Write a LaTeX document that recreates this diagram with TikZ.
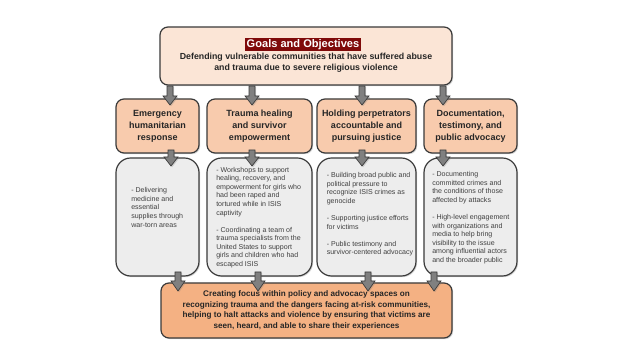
\documentclass[tikz,border=0pt]{standalone}
\usepackage{fontspec}
\setmainfont{Liberation Sans}
\usetikzlibrary{shadows}
\definecolor{topfill}{HTML}{FBE5D6}
\definecolor{orfill}{HTML}{F8CBAD}
\definecolor{grfill}{HTML}{EDEDED}
\definecolor{botfill}{HTML}{F4B183}
\definecolor{titlered}{HTML}{7F0A0A}
\definecolor{edge}{HTML}{3A3A3A}
\definecolor{txt}{HTML}{262626}
\definecolor{graytxt}{HTML}{404040}
\definecolor{arrfill}{HTML}{808080}
\newcommand{\blockarr}[4]{%
  \draw[arrstyle] (#1-3,#2) -- (#1+3,#2) -- (#1+3,#3) -- (#1+7,#3) -- (#1,#4) -- (#1-7,#3) -- (#1-3,#3) -- cycle;}
\begin{document}
\begin{tikzpicture}[x=0.75pt,y=-0.75pt,
  sh/.style={drop shadow={opacity=0.3,shadow xshift=0.9pt,shadow yshift=-0.9pt}},
  basebox/.style={draw=edge,line width=0.9pt,sh,inner sep=0pt,rectangle},
  topbox/.style={basebox,fill=topfill,rounded corners=6pt},
  headbox/.style={basebox,fill=orfill,rounded corners=6pt,minimum height=40.5pt,
     align=center,text=txt,font=\bfseries\fontsize{6.75pt}{9pt}\selectfont},
  detailbox/.style={basebox,fill=grfill,rounded corners=11pt,minimum height=88.5pt},
  detailtxt/.style={anchor=north west,inner sep=0pt,align=left,text=graytxt,
     font=\fontsize{5.3pt}{6.4pt}\selectfont},
  botbox/.style={basebox,fill=botfill,rounded corners=6pt,align=center,text=txt,
     font=\bfseries\fontsize{6.1pt}{7.9pt}\selectfont},
  arrstyle/.style={fill=arrfill,draw=edge,line width=0.5pt,sh}]
\useasboundingbox (0,0) rectangle (624,352);
\fill[white] (0,0) rectangle (624,352);

% top box
\node[topbox,minimum width=219pt,minimum height=43.5pt] (goal) at (306,56) {};
\node[fill=titlered,text=white,font=\bfseries\fontsize{8.3pt}{9pt}\selectfont,
  inner xsep=1.2pt,inner ysep=0pt,minimum height=9.75pt] (title) at (303,44.5) {Goals and Objectives};
\node[align=center,inner sep=0pt,text=txt,font=\bfseries\fontsize{6.6pt}{7.6pt}\selectfont]
  (goaltxt) at (306,62.7) {Defending vulnerable communities that have suffered abuse\\and trauma due to severe religious violence};

% heading boxes
\node[headbox,minimum width=62.25pt] (h1) at (157.5,126) {Emergency\\humanitarian\\response};
\node[headbox,minimum width=78.75pt] (h2) at (259.5,126) {Trauma healing\\and survivor\\empowerment};
\node[headbox,minimum width=74.25pt] (h3) at (366.5,126) {Holding perpetrators\\accountable and\\pursuing justice};
\node[headbox,minimum width=69.75pt] (h4) at (470.5,126) {Documentation,\\testimony, and\\public advocacy};

% detail boxes
\node[detailbox,minimum width=62.25pt] (d1) at (157.5,217) {};
\node[detailbox,minimum width=78.75pt] (d2) at (259.5,217) {};
\node[detailbox,minimum width=74.25pt] (d3) at (366.5,217) {};
\node[detailbox,minimum width=69.75pt] (d4) at (470.5,217) {};

\node[detailtxt] (t1) at (131,187.5) {- Delivering\\medicine and\\essential\\supplies through\\war-torn areas};
\node[detailtxt] (t2) at (216,167) {- Workshops to support\\healing, recovery, and\\empowerment for girls who\\had been raped and\\tortured while in ISIS\\captivity\\[6.4pt]- Coordinating a team of\\trauma specialists from the\\United States to support\\girls and children who had\\escaped ISIS};
\node[detailtxt] (t3) at (326.5,172.5) {- Building broad public and\\political pressure to\\recognize ISIS crimes as\\genocide\\[6.4pt]- Supporting justice efforts\\for victims\\[6.4pt]- Public testimony and\\survivor-centered advocacy};
\node[detailtxt] (t4) at (432,171.5) {- Documenting\\committed crimes and\\the conditions of those\\affected by attacks\\[6.4pt]- High-level engagement\\with organizations and\\media to help bring\\visibility to the issue\\among influential actors\\and the broader public};

% bottom box
\node[botbox,minimum width=218.25pt,minimum height=41.25pt] (res) at (306.5,310.5)
  {Creating focus within policy and advocacy spaces on\\recognizing trauma and the dangers facing at-risk communities,\\helping to halt attacks and violence by ensuring that victims are\\seen, heard, and able to share their experiences};

% block arrows
\blockarr{170}{86}{96}{105}
\blockarr{252}{86}{96}{105}
\blockarr{362}{86}{96}{105}
\blockarr{443}{86}{96}{105}
\blockarr{171}{150}{157}{166}
\blockarr{252}{150}{157}{166}
\blockarr{362}{150}{157}{166}
\blockarr{443}{150}{157}{166}
\blockarr{178}{272}{281}{291}
\blockarr{258}{272}{281}{291}
\blockarr{368}{272}{281}{291}
\blockarr{434}{272}{281}{291}
\end{tikzpicture}
\end{document}
